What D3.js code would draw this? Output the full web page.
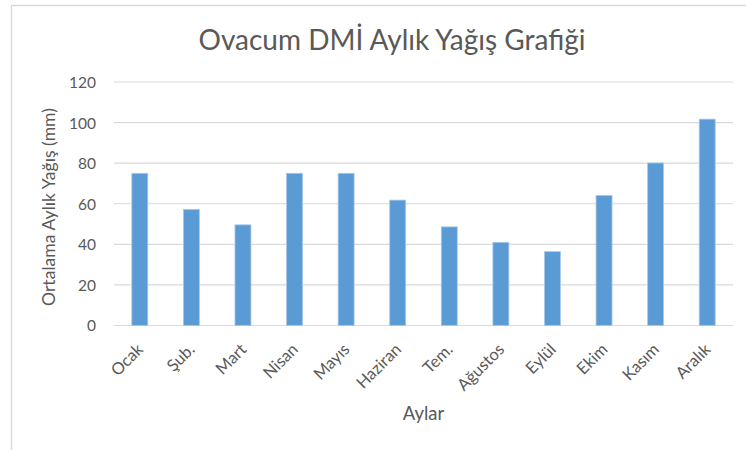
<!DOCTYPE html>
<html><head><meta charset="utf-8">
<script src="https://cdn.jsdelivr.net/npm/d3@7"></script>
<style>
html,body{margin:0;padding:0;background:#fff;}
svg{display:block;}
text{font-family:Lato,"Noto Sans",sans-serif;fill:#595959;}
</style></head>
<body>
<svg id="c" width="746" height="450"></svg>
<script>
const months = ["Ocak","Şub.","Mart","Nisan","Mayıs","Haziran","Tem.","Ağustos","Eylül","Ekim","Kasım","Aralık"];
const rainfall = [75, 57.2, 49.6, 75, 75, 61.8, 48.6, 41, 36.4, 64.1, 80.1, 101.7];
const yTicks = [0, 20, 40, 60, 80, 100, 120];
const titleText = "Ovacum DMİ Aylık Yağış Grafiği";
const xTitle = "Aylar";
const yTitle = "Ortalama Aylık Yağış (mm)";

const svg = d3.select("#c");
const plot = {left: 114, right: 733, top: 82, bottom: 325.5};

// chart border (only top/left visible)
svg.append("path").attr("d","M11.5,460V5.5H760")
  .attr("fill","none").attr("stroke","#d9d9d9").attr("stroke-width",1.3);

const x = d3.scaleBand().domain(months).range([plot.left, plot.right])
  .paddingInner(0.69).paddingOuter(0.345);
const y = d3.scaleLinear().domain([0,120]).range([plot.bottom, plot.top]);

// gridlines
svg.append("g").selectAll("line").data(yTicks).join("line")
  .attr("x1", plot.left).attr("x2", plot.right)
  .attr("y1", d=>y(d)).attr("y2", d=>y(d))
  .attr("stroke","#d9d9d9").attr("stroke-width",1.2);

// y axis labels
const yAxis = d3.axisLeft(y).tickValues(yTicks).tickSize(0).tickPadding(0);
const gy = svg.append("g").attr("transform","translate(96,0)").call(yAxis);
gy.select(".domain").remove();
gy.selectAll("text").style("font-size","15.5px").attr("fill","#595959").attr("dy","0.35em")
  .style("font-family","Lato");

// bars
svg.append("g").selectAll("rect").data(rainfall).join("rect")
  .attr("x",(d,i)=>x(months[i])).attr("width",x.bandwidth())
  .attr("y",d=>y(d)).attr("height",d=>y(0)-y(d))
  .attr("fill","#5b9bd5").attr("stroke","#a9c9ea").attr("stroke-width",0.8);

// x labels
const xAxis = d3.axisBottom(x).tickSize(0).tickPadding(0);
const gx = svg.append("g").attr("transform",`translate(0,${plot.bottom})`).call(xAxis);
gx.select(".domain").remove();
gx.selectAll("text")
  .style("font-size","16.5px").style("font-family","Lato").attr("fill","#595959")
  .attr("text-anchor","end").attr("dy",null).attr("y",null)
  .attr("transform","translate(4.5,25) rotate(-45)");

// title
svg.append("text").attr("x",392).attr("y",50).attr("text-anchor","middle")
  .style("font-size","28px").text(titleText);

// axis titles
svg.append("text").attr("x",(plot.left+plot.right)/2).attr("y",420).attr("text-anchor","middle")
  .style("font-size","18.5px").text(xTitle);
svg.append("text").attr("transform","translate(55,207) rotate(-90)").attr("text-anchor","middle")
  .style("font-size","17.6px").text(yTitle);
</script>
</body></html>
